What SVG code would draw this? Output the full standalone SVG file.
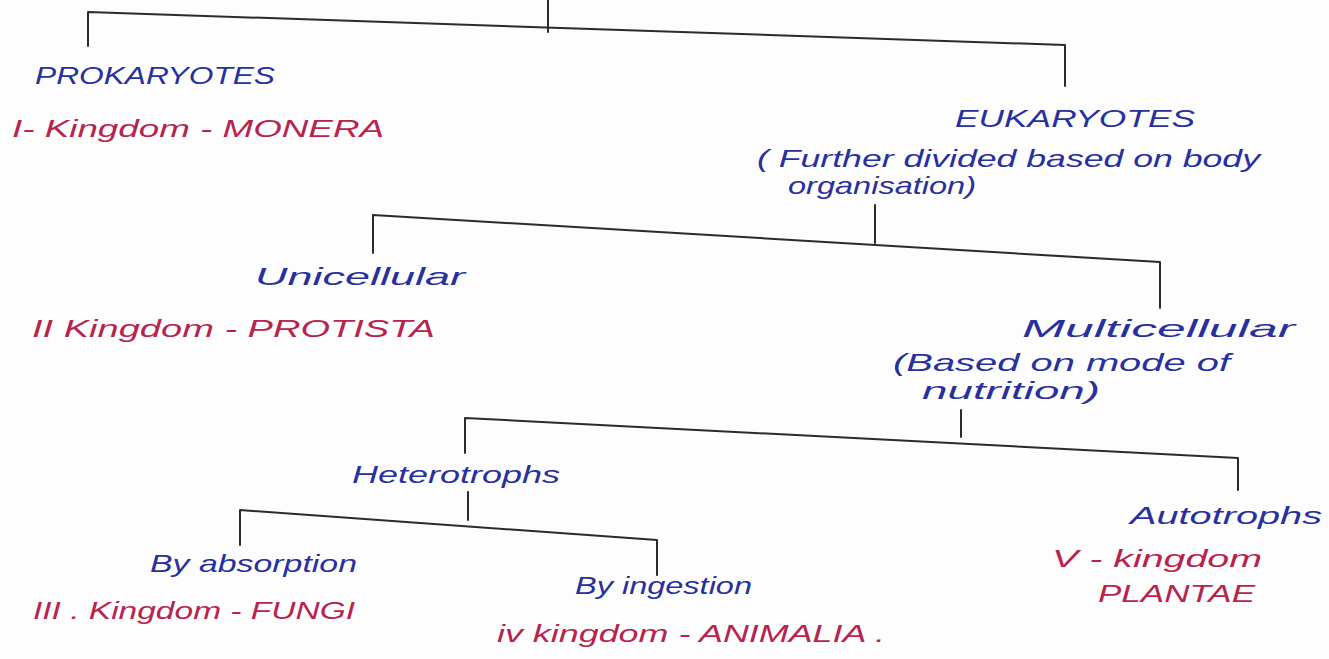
<svg xmlns="http://www.w3.org/2000/svg" width="1329" height="659" viewBox="0 0 1329 659">
<style>
.bg{fill:#fdfdfd}
.ln{stroke:#2b2b2b;stroke-width:2;fill:none;stroke-linecap:round;stroke-linejoin:round}
.b{fill:#2830a0;font-family:"Liberation Sans",Arial,sans-serif;font-style:italic;font-size:24px}
.r{fill:#b8234e;font-family:"Liberation Sans",Arial,sans-serif;font-style:italic;font-size:23px}
</style>
<rect class="bg" x="0" y="0" width="1329" height="659"/>
<g id="connectors">
<path class="ln" d="M548,0 L548,32"/>
<path class="ln" d="M88,46 L88,12 L1065,45 L1065,86"/>
<path class="ln" d="M875,205 L875,243"/>
<path class="ln" d="M373,253 L373,215 L1160,262 L1160,308"/>
<path class="ln" d="M961,410 L961,437"/>
<path class="ln" d="M465,453 L465,418 L1238,458 L1238,490"/>
<path class="ln" d="M468,492 L468,520"/>
<path class="ln" d="M240,545 L240,510 L657,540 L657,575"/>
</g>
<g id="prokaryotes">
<text class="b" x="35" y="84" textLength="240" lengthAdjust="spacingAndGlyphs">PROKARYOTES</text>
<text class="r" x="12" y="137" textLength="372" lengthAdjust="spacingAndGlyphs">I- Kingdom - MONERA</text>
</g>
<g id="eukaryotes">
<text class="b" x="955" y="127" textLength="240" lengthAdjust="spacingAndGlyphs">EUKARYOTES</text>
<text class="b" x="757" y="167" textLength="503" lengthAdjust="spacingAndGlyphs">( Further divided based on body</text>
<text class="b" x="788" y="194" textLength="188" lengthAdjust="spacingAndGlyphs">organisation)</text>
</g>
<g id="unicellular">
<text class="b" x="255" y="285" textLength="210" lengthAdjust="spacingAndGlyphs">Unicellular</text>
<text class="r" x="32" y="337" textLength="403" lengthAdjust="spacingAndGlyphs">II Kingdom - PROTISTA</text>
</g>
<g id="multicellular">
<text class="b" x="1022" y="337" textLength="273" lengthAdjust="spacingAndGlyphs">Multicellular</text>
<text class="b" x="893" y="371" textLength="337" lengthAdjust="spacingAndGlyphs">(Based on mode of</text>
<text class="b" x="922" y="399" textLength="178" lengthAdjust="spacingAndGlyphs">nutrition)</text>
</g>
<g id="heterotrophs">
<text class="b" x="352" y="483" textLength="208" lengthAdjust="spacingAndGlyphs">Heterotrophs</text>
</g>
<g id="absorption">
<text class="b" x="150" y="572" textLength="207" lengthAdjust="spacingAndGlyphs">By absorption</text>
<text class="r" x="33" y="619" textLength="322" lengthAdjust="spacingAndGlyphs">III . Kingdom - FUNGI</text>
</g>
<g id="ingestion">
<text class="b" x="575" y="594" textLength="177" lengthAdjust="spacingAndGlyphs">By ingestion</text>
<text class="r" x="497" y="642" textLength="388" lengthAdjust="spacingAndGlyphs">iv kingdom - ANIMALIA .</text>
</g>
<g id="autotrophs">
<text class="b" x="1130" y="524" textLength="192" lengthAdjust="spacingAndGlyphs">Autotrophs</text>
<text class="r" x="1052" y="567" textLength="210" lengthAdjust="spacingAndGlyphs">V - kingdom</text>
<text class="r" x="1098" y="602" textLength="157" lengthAdjust="spacingAndGlyphs">PLANTAE</text>
</g>
</svg>
